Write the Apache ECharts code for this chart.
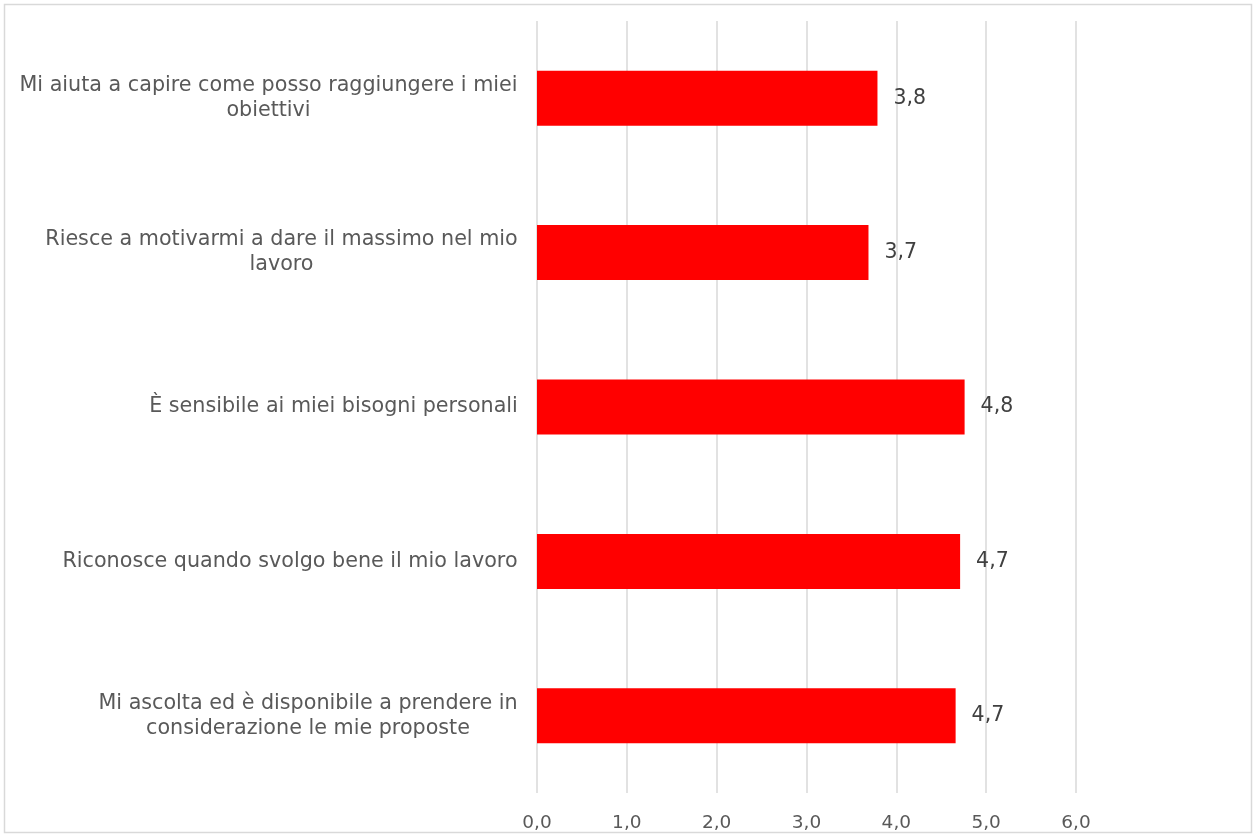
<!DOCTYPE html>
<html>
<head>
<meta charset="utf-8">
<script src="https://cdn.jsdelivr.net/npm/echarts@6/dist/echarts.min.js"></script>
<style>
  body { margin: 0; background: #fff; }
  #chart { width: 1255px; height: 837px; }
</style>
</head>
<body>
<div id="chart"></div>
<script>
// dati
var categories = [
    'Mi aiuta a capire come posso raggiungere i miei\nobiettivi',
    'Riesce a motivarmi a dare il massimo nel mio\nlavoro',
    'È sensibile ai miei bisogni personali',
    'Riconosce quando svolgo bene il mio lavoro',
    'Mi ascolta ed è disponibile a prendere in\nconsiderazione le mie proposte'
];
var values = [3.79, 3.69, 4.76, 4.71, 4.66];
var tickLabels = ['0,0', '1,0', '2,0', '3,0', '4,0', '5,0', '6,0'];

(function () {
    var myChart = echarts.init(document.getElementById('chart'));
    var FONT = '"DejaVu Sans", sans-serif';
    var FS = 20.7;

    // misura il testo per centrare le righe dentro il blocco allineato a destra
    var ctx = document.createElement('canvas').getContext('2d');
    ctx.font = FS + 'px ' + FONT;
    var rich = {};
    categories.forEach(function (c, i) {
        var w = 0;
        c.split('\n').forEach(function (l) {
            w = Math.max(w, ctx.measureText(l).width);
        });
        rich['r' + i] = {
            width: Math.ceil(w),
            align: 'center',
            fontFamily: FONT,
            fontSize: FS,
            color: '#595959',
            lineHeight: 25
        };
    });

    var option = {
        animation: false,
        textStyle: { fontFamily: FONT },
        graphic: [{
            type: 'rect',
            shape: { x: 4.5, y: 4.5, width: 1247, height: 828 },
            style: { fill: 'none', stroke: '#d9d9d9', lineWidth: 1.5 },
            silent: true
        }],
        grid: {
            left: 537,
            right: 179,
            top: 21,
            bottom: 44
        },
        xAxis: {
            type: 'value',
            min: 0,
            max: 6,
            interval: 1,
            axisLine: { show: false },
            axisTick: { show: false },
            axisLabel: {
                margin: 21,
                color: '#595959',
                fontSize: 18.5,
                fontFamily: FONT,
                formatter: function (v) { return tickLabels[Math.round(v)]; }
            },
            splitLine: {
                lineStyle: { color: '#d9d9d9', width: 1.5 }
            }
        },
        yAxis: {
            type: 'category',
            inverse: true,
            data: categories,
            axisLine: { show: false },
            axisTick: { show: false },
            axisLabel: {
                margin: 19,
                formatter: function (v) {
                    var i = categories.indexOf(v);
                    return v.split('\n').map(function (l) {
                        return '{r' + i + '|' + l + '}';
                    }).join('\n');
                },
                rich: rich
            }
        },
        series: [{
            type: 'bar',
            data: values,
            barWidth: '35.6%',
            itemStyle: { color: '#ff0000' },
            label: {
                show: true,
                position: 'right',
                distance: 16,
                color: '#404040',
                fontSize: 20.5,
                fontFamily: FONT,
                formatter: function (p) {
                    return p.value.toFixed(1).replace('.', ',');
                }
            }
        }]
    };
    myChart.setOption(option);
})();
</script>
</body>
</html>
